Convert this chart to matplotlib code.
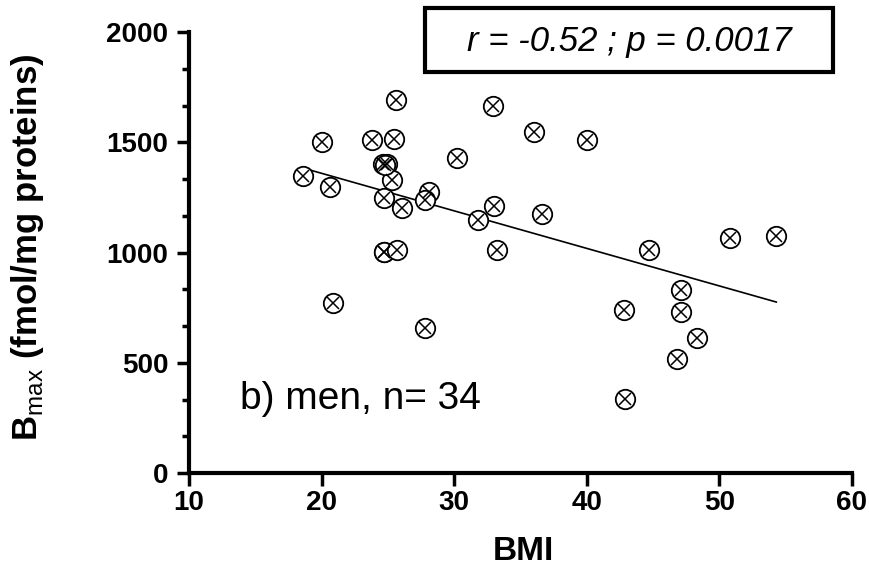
import numpy as np
import matplotlib
matplotlib.use('Agg')
import matplotlib.pyplot as plt
from matplotlib.ticker import MultipleLocator
from matplotlib.patches import Rectangle

plt.rcParams['font.family'] = ['Liberation Sans', 'DejaVu Sans']
plt.rcParams['mathtext.fontset'] = 'custom'
plt.rcParams['mathtext.rm'] = 'Liberation Sans'
plt.rcParams['mathtext.bf'] = 'Liberation Sans:bold'

# BMI and Bmax for men
bmi = [18.6, 20.0, 20.6, 20.9, 23.8, 24.6, 24.9, 24.7, 25.5, 25.6,
       25.3, 24.7, 26.1, 24.7, 25.7, 27.8, 28.1, 27.8, 30.2, 31.8,
       32.9, 33.0, 33.2, 36.0, 36.6, 40.0, 42.8, 42.9, 44.7, 46.8,
       47.1, 47.1, 48.3, 50.8, 54.3, 24.8]
bmax = [1347, 1503, 1296, 772, 1510, 1400, 1400, 1246, 1513, 1692,
        1329, 1004, 1200, 1004, 1011, 658, 1276, 1238, 1427, 1147,
        1664, 1209, 1011, 1548, 1175, 1510, 739, 334, 1011, 516,
        830, 732, 611, 1067, 1075, 1395]

x = np.array(bmi)
y = np.array(bmax)

fig = plt.figure(figsize=(8.7, 5.72), dpi=100)
ax = fig.add_axes([0.2172, 0.173, 0.762, 0.771])

# linear regression line
k, b = np.polyfit(x, y, 1)
xs = np.array([x.min(), x.max()])
ax.plot(xs, k * xs + b, color='black', lw=1.2, zorder=2)

ax.plot(x, y, linestyle='none', marker='o', ms=14, mfc='white', mec='black', mew=1.3, zorder=3)
ax.plot(x, y, linestyle='none', marker='x', ms=9, mec='black', mew=1.1, zorder=4)

ax.set_xlim(10, 60)
ax.set_ylim(0, 2000)
ax.set_xticks([10, 20, 30, 40, 50, 60])
ax.set_yticks([0, 500, 1000, 1500, 2000])
ax.yaxis.set_minor_locator(MultipleLocator(500 / 3))

for s in ['top', 'right']:
    ax.spines[s].set_visible(False)
for s in ['left', 'bottom']:
    ax.spines[s].set_linewidth(3)
ax.tick_params(which='major', length=9, width=2.5, labelsize=20, pad=3)
ax.tick_params(axis='y', which='major', pad=6)
ax.tick_params(which='minor', length=5, width=2.5)
for lab in ax.get_xticklabels() + ax.get_yticklabels():
    lab.set_fontweight('bold')

fig.text(523 / 870, 1 - 552 / 572, 'BMI', fontsize=24, fontweight='bold',
         ha='center', va='center')
fig.text(28 / 870, 1 - 247 / 572, r'$\mathbf{B}_{\mathrm{max}}$ (fmol/mg proteins)',
         fontsize=25, fontweight='bold', rotation=90, ha='center', va='center')

ax.text(0.077, 0.168, 'b) men, n= 34', transform=ax.transAxes, fontsize=28,
        ha='left', va='center')

fig.patches.append(Rectangle((425 / 870, 1 - 72 / 572), 408 / 870, 64 / 572,
                             transform=fig.transFigure, fc='white', ec='black', lw=3))
fig.text(629 / 870, 1 - 41 / 572, 'r = -0.52 ; p = 0.0017', fontsize=25, style='italic',
         ha='center', va='center')

fig.savefig('out.png', dpi=100)
